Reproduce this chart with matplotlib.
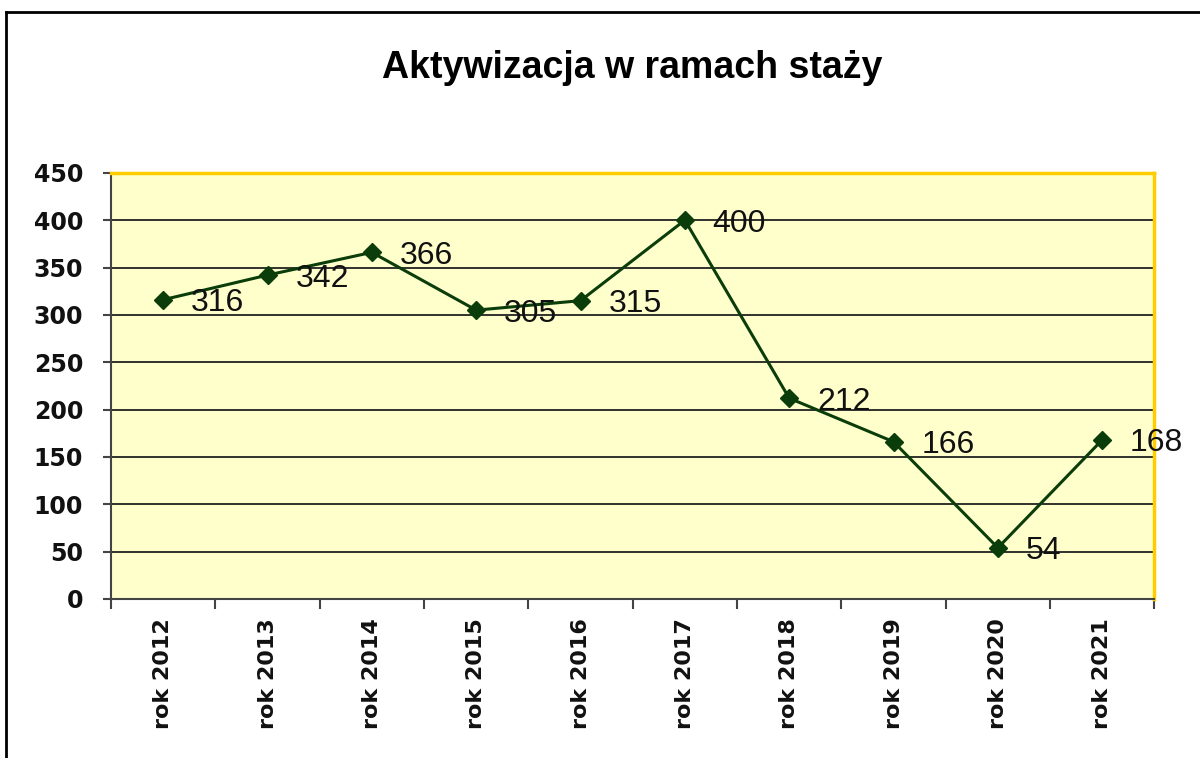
import matplotlib.pyplot as plt
import numpy as np
from matplotlib.lines import Line2D

lata = ["rok 2012", "rok 2013", "rok 2014", "rok 2015", "rok 2016",
        "rok 2017", "rok 2018", "rok 2019", "rok 2020", "rok 2021"]
staze = [316, 342, 366, 305, 315, 400, 212, 166, 54, 168]
yticks = [0, 50, 100, 150, 200, 250, 300, 350, 400, 450]

fig = plt.figure(figsize=(12, 7.58), dpi=100)
ax = fig.add_axes([0.0925, 0.2098, 0.962 - 0.0925, 0.772 - 0.2098])

# ramka calego wykresu
fig.add_artist(Line2D([6 / 1200, 6 / 1200], [0, 1 - 12 / 758], transform=fig.transFigure,
                      color="black", lw=2))
fig.add_artist(Line2D([6 / 1200, 1], [1 - 12 / 758, 1 - 12 / 758], transform=fig.transFigure,
                      color="black", lw=2))

ax.set_facecolor("#FFFFCC")
x = np.arange(len(lata))
ax.set_xlim(-0.5, len(lata) - 0.5)
ax.set_ylim(0, 450)
ax.set_yticks(yticks)
ax.yaxis.grid(True, color="#222222", lw=1.3)
ax.set_axisbelow(True)

ax.plot(x, staze, color="#0A3D0A", lw=2.2, marker="D", markersize=9, zorder=3)
for xi, v in zip(x, staze):
    ax.annotate(str(v), (xi, v), xytext=(20, -2.5), textcoords="offset points",
                ha="left", va="center", fontsize=23, family="Liberation Sans", color="#111111")

for s in ["top", "right"]:
    ax.spines[s].set_color("#FFCC00")
    ax.spines[s].set_linewidth(2.5)
ax.spines["left"].set_color("#444444")
ax.spines["bottom"].set_color("#444444")
ax.spines["left"].set_linewidth(1.5)
ax.spines["bottom"].set_linewidth(1.5)

ax.set_xticks(x)
ax.set_xticklabels(lata, rotation=90, fontsize=16, fontweight="bold", color="#111111")
ax.set_xticks(np.arange(-0.5, len(lata)), minor=True)
ax.tick_params(axis="x", which="major", length=0, pad=14)
ax.tick_params(axis="x", which="minor", length=7, width=1.5, color="#444444")
ax.tick_params(axis="y", length=6, width=1.5, color="#444444", labelsize=17, pad=14)
for t in ax.get_yticklabels():
    t.set_fontweight("bold")
    t.set_color("#111111")

fig.text(0.527, 1 - 68 / 758, "Aktywizacja w ramach staży", ha="center", va="center",
         fontsize=27, fontweight="bold", family="Liberation Sans")

fig.savefig("out.png", dpi=100)
